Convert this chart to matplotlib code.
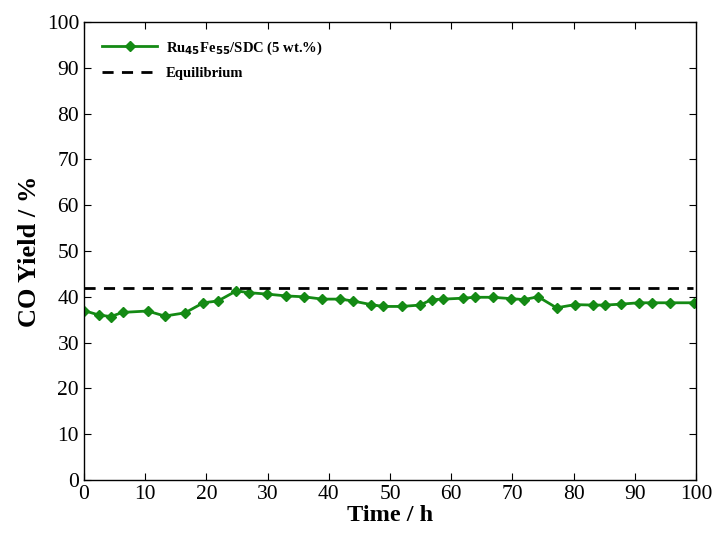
"""CO yield vs time for Ru45Fe55/SDC catalyst, with equilibrium limit."""

import matplotlib
import matplotlib.pyplot as plt

matplotlib.use("Agg")

time_h = [0, 2.5, 4.4, 6.3, 10.4, 13.2, 16.5, 19.5, 21.9, 24.9, 27.0, 29.9, 33.0,
          36.0, 38.9, 41.9, 43.9, 46.9, 48.9, 51.9, 54.9, 56.8, 58.7, 61.9, 63.8,
          66.8, 69.8, 71.8, 74.2, 77.2, 80.2, 83.2, 85.1, 87.7, 90.6, 92.8, 95.8, 99.7]
co_yield = [37.0, 36.0, 35.7, 36.6, 36.9, 35.8, 36.5, 38.7, 39.1, 41.3, 40.9, 40.6, 40.2,
            40.0, 39.5, 39.5, 39.1, 38.3, 37.9, 37.9, 38.2, 39.4, 39.5, 39.7, 39.9,
            39.9, 39.6, 39.4, 40.0, 37.6, 38.3, 38.2, 38.2, 38.4, 38.7, 38.7, 38.7, 38.7]
equilibrium = 42.0

x_ticks = list(range(0, 101, 10))
y_ticks = list(range(0, 101, 10))

plt.rcParams["font.family"] = ["Liberation Serif", "DejaVu Serif"]

fig = plt.figure(figsize=(7.14, 5.38), dpi=100)
ax = fig.add_axes([0.1176, 0.1078, 0.8574, 0.8512])

green = "#148a14"
ax.plot(time_h, co_yield, color=green, linewidth=2, marker="D", markersize=5,
        markerfacecolor=green, markeredgecolor=green,
        label=r"Ru$_{\mathbf{45}}$Fe$_{\mathbf{55}}$/SDC (5 wt.%)")
ax.plot([0, 99.5], [equilibrium, equilibrium], color="black", linestyle="--",
        linewidth=2, dashes=(4, 3), label="Equilibrium")

ax.set_xlim(0, 100)
ax.set_ylim(0, 100)
ax.set_xticks(x_ticks)
ax.set_yticks(y_ticks)
ax.tick_params(direction="in", top=True, right=True, labelsize=15.5, length=5, width=0.8)
for side in ax.spines.values():
    side.set_linewidth(1.0)

ax.set_xlabel("Time / h", fontsize=17.5, fontweight="bold", labelpad=1)
ax.set_ylabel("CO Yield / %", fontsize=19, fontweight="bold", labelpad=4)

leg = ax.legend(loc="upper left", bbox_to_anchor=(0.02, 0.975), frameon=False,
                prop={"weight": "bold", "size": 10.5}, handlelength=3.8,
                handletextpad=0.6, borderaxespad=0.0, labelspacing=0.7)

fig.savefig("out.png", dpi=100)
